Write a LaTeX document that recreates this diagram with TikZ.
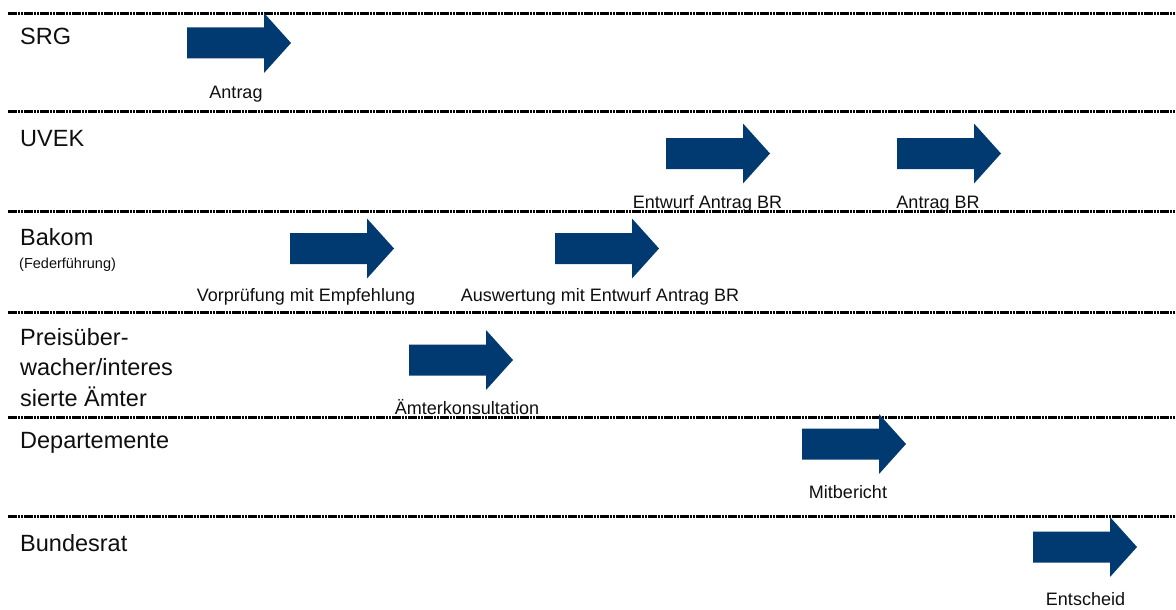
\documentclass[tikz,border=0pt]{standalone}
\usepackage{fontspec}
\setmainfont{Liberation Sans}
\definecolor{arrowblue}{RGB}{0,58,112}
\definecolor{txt}{RGB}{15,15,15}
\begin{document}
\begin{tikzpicture}[x=1pt,y=-1pt,
  sepline/.style={line width=3pt,black,dash pattern=on 2.6pt off 0.6pt},
  rowlabel/.style={anchor=base west,inner sep=0pt,text=txt,font=\fontsize{23.5}{28}\selectfont},
  sublabel/.style={anchor=base west,inner sep=0pt,text=txt,font=\fontsize{14.5}{17}\selectfont},
  steplabel/.style={anchor=base,inner sep=0pt,text=txt,font=\fontsize{18}{21}\selectfont},
  pics/bigarrow/.style={code={\fill[arrowblue] (0,-15.5) -- (77,-15.5) -- (77,-30) -- (104,0) -- (77,30) -- (77,15.5) -- (0,15.5) -- cycle;}}
]
\useasboundingbox (0,0) rectangle (1176,610);
% separator lines
\foreach \y/\n in {13.5/l1,111/l2,211/l3,312/l4,417/l5,516/l6}{
  \coordinate (\n a) at (8,\y);
  \coordinate (\n b) at (1176,\y);
  \draw[sepline] (\n a) -- (\n b);
}
% row labels
\node[rowlabel] (srg) at (20,45) {SRG};
\node[rowlabel] (uvek) at (20,146) {UVEK};
\node[rowlabel] (bakom) at (20,245) {Bakom};
\node[sublabel] (feder) at (19,268) {(Federführung)};
\node[rowlabel] (preis1) at (20,345) {Preisüber-};
\node[rowlabel] (preis2) at (20,375.5) {wacher/interes};
\node[rowlabel] (preis3) at (20,406) {sierte Ämter};
\node[rowlabel] (dep) at (20,448) {Departemente};
\node[rowlabel] (br) at (20,551) {Bundesrat};
% arrows
\pic (a1) at (187,43) {bigarrow};
\pic (a2) at (290,248.5) {bigarrow};
\pic (a3) at (555,248.5) {bigarrow};
\pic (a4) at (666,153.5) {bigarrow};
\pic (a5) at (897,153.5) {bigarrow};
\pic (a6) at (409,360) {bigarrow};
\pic (a7) at (802,444) {bigarrow};
\pic (a8) at (1033,547) {bigarrow};
% step labels
\node[steplabel] (t1) at (236,99) {Antrag};
\node[steplabel] (t2) at (306,301) {Vorprüfung mit Empfehlung};
\node[steplabel] (t3) at (600,301) {Auswertung mit Entwurf Antrag BR};
\node[steplabel] (t4) at (707.5,208) {Entwurf Antrag BR};
\node[steplabel] (t5) at (938,208) {Antrag BR};
\node[steplabel] (t6) at (467,414) {Ämterkonsultation};
\node[steplabel] (t7) at (848,498) {Mitbericht};
\node[steplabel] (t8) at (1085.5,605) {Entscheid};
\end{tikzpicture}
\end{document}
